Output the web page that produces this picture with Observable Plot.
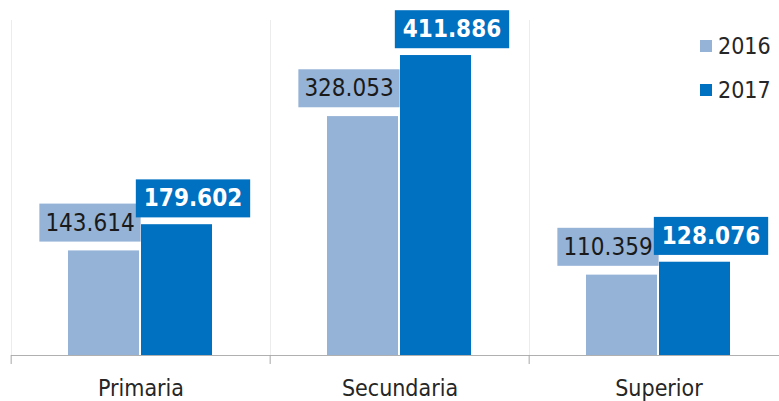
<!DOCTYPE html>
<html>
<head>
<meta charset="utf-8">
<script src="https://cdn.jsdelivr.net/npm/d3@7"></script>
<script src="https://cdn.jsdelivr.net/npm/@observablehq/plot@0.6"></script>
<style>
  body { margin: 0; background: #fff; }
  #wrap { position: relative; width: 779px; height: 401px; font-family: "DejaVu Sans Condensed", "DejaVu Sans", sans-serif; }
  .leg { position: absolute; left: 700px; font-size: 23px; color: #262626; display: flex; align-items: center; }
  .sw { width: 12px; height: 12px; margin-right: 6px; }
</style>
</head>
<body>
<div id="wrap"></div>
<script>
const categories = ["Primaria", "Secundaria", "Superior"];
const years = ["2016", "2017"];
const values2016 = [143614, 328053, 110359];
const values2017 = [179602, 411886, 128076];
const colors = ["#95b3d7", "#0070c0"];

const fmt = d3.formatLocale({decimal: ",", thousands: ".", grouping: [3]}).format(",d");

const data = [];
categories.forEach((c, i) => {
  data.push({cat: c, year: years[0], value: values2016[i]});
  data.push({cat: c, year: years[1], value: values2017[i]});
});
const d16 = data.filter(d => d.year === years[0]);
const d17 = data.filter(d => d.year === years[1]);
const labels16 = values2016.map(fmt);
const labels17 = values2017.map(fmt);

const W = 779, H = 401, mL = 10, mR = -10;
const halfStep = (W - mL - mR) / categories.length / 2;
const font = "'DejaVu Sans Condensed', 'DejaVu Sans', sans-serif";

const chart = Plot.plot({
  width: W, height: H, marginLeft: mL, marginRight: mR, marginTop: 20, marginBottom: 46,
  style: {fontFamily: font, color: "#262626", background: "#fff"},
  fx: {domain: categories, padding: 0, label: null},
  x: {domain: years, paddingInner: 0.027, paddingOuter: 0.767, axis: null},
  y: {domain: [0, 460], axis: null},
  color: {domain: years, range: colors},
  marks: [
    Plot.frame({anchor: "left", stroke: "#ececec"}),
    Plot.ruleY([0], {stroke: "#b0b0b0", strokeWidth: 1}),
    Plot.axisFx({anchor: "bottom", tickSize: 9, tickFormat: () => "", dx: -halfStep, stroke: "#a8a8a8", label: null}),
    Plot.axisFx({anchor: "bottom", tickSize: 0, tickPadding: 24, fontSize: 23, label: null}),
    Plot.barY(data, {fx: "cat", x: "year", y: d => d.value / 1000, fill: "year"}),
    Plot.text(d16, {fx: "cat", x: "year", y: d => d.value / 1000, text: d => fmt(d.value),
      dx: -14, dy: -28, fontSize: 24, fill: "#1a1a1a"}),
    Plot.text(d17, {fx: "cat", x: "year", y: d => d.value / 1000, text: d => fmt(d.value),
      dx: 16, dy: -26, fontSize: 24, fontWeight: "bold", fill: "#ffffff"})
  ]
});

const wrap = document.getElementById("wrap");
wrap.appendChild(chart);

Array.from(chart.querySelectorAll("text")).forEach(t => {
  const s = t.textContent.trim();
  let color = null, padX = 6;
  if (labels16.includes(s)) { color = colors[0]; padX = 6; }
  else if (labels17.includes(s)) { color = colors[1]; padX = 8; }
  if (!color) return;
  const b = t.getBBox();
  const r = document.createElementNS("http://www.w3.org/2000/svg", "rect");
  r.setAttribute("x", b.x - padX);
  r.setAttribute("y", b.y - 5);
  r.setAttribute("width", b.width + 2 * padX);
  r.setAttribute("height", b.height + 10);
  r.setAttribute("fill", color);
  const tr = t.getAttribute("transform");
  if (tr) r.setAttribute("transform", tr);
  t.parentNode.insertBefore(r, t);
});

years.forEach((y, i) => {
  const el = document.createElement("div");
  el.className = "leg";
  el.style.top = (i === 0 ? 33 : 77) + "px";
  el.innerHTML = `<span class="sw" style="background:${colors[i]}"></span><span>${y}</span>`;
  wrap.appendChild(el);
});
</script>
</body>
</html>
